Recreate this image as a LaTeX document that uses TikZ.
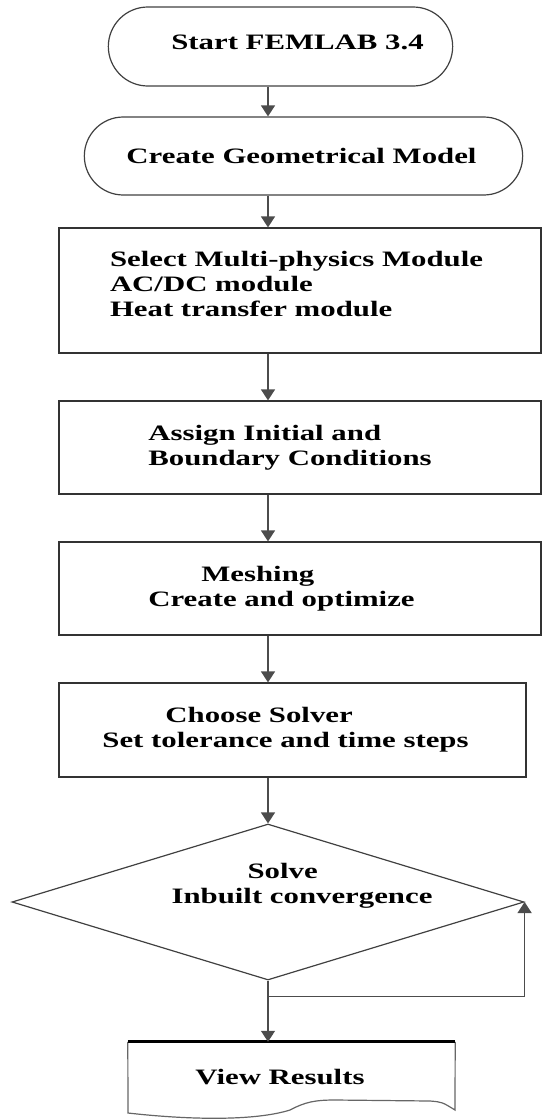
\documentclass[tikz,border=0pt]{standalone}
\usepackage{fontspec}
\setmainfont{Liberation Serif}[FakeStretch=1.4]
\usetikzlibrary{arrows.meta, shapes.geometric, shapes.misc, positioning, calc}

\tikzset{
  term/.style={rounded rectangle, draw=black!75, line width=1.2pt},
  procbox/.style={rectangle, draw=black!80, line width=1.2pt},
  decide/.style={diamond, draw=black!75, line width=1.2pt, minimum width=512pt, minimum height=156pt},
  arr/.style={draw=black!70, line width=1.2pt, -{Triangle[width=14pt,length=11pt]}},
  every label/.style={align=left, text=black}
}

\begin{document}
\begin{tikzpicture}[x=1pt, y=-1pt, font=\fontsize{22}{25}\selectfont\bfseries]
  \useasboundingbox (0,0) rectangle (543,1120);
  \coordinate (spine) at (268,0);

  % start and model
  \node[term, minimum width=351pt, minimum height=79pt,
        label={[xshift=17pt, yshift=4pt]center:Start FEMLAB 3.4}] (start) at (280.5,46.5) {};
  \node[term, minimum width=445pt, minimum height=78pt,
        label={[xshift=-2pt]center:Create Geometrical Model}] (geom) at (303.5,156) {};

  % process steps
  \node[procbox, minimum width=482pt, minimum height=125pt,
        label={[xshift=-3.5pt, yshift=6.5pt]center:Select Multi-physics Module\\AC/DC module\\Heat transfer module}] (sel) at (300,290.5) {};
  \node[procbox, minimum width=482pt, minimum height=93pt,
        label={[xshift=-10pt]center:Assign Initial and\\Boundary Conditions}] (asg) at (300,447.5) {};
  \node[procbox, minimum width=482pt, minimum height=93pt,
        label={[xshift=-18.5pt]center:\hspace*{53pt}Meshing\\Create and optimize}] (msh) at (300,588.5) {};
  \node[procbox, minimum width=467pt, minimum height=94pt,
        label={[xshift=-7pt]center:\hspace*{63pt}Choose Solver\\Set tolerance and time steps}] (slv) at (292.5,730) {};

  % solve
  \node[decide, label={[xshift=34pt, yshift=16.5pt]center:\hspace*{76pt}Solve\\Inbuilt convergence}] (dec) at (268,902) {};

  % results
  \node[minimum width=327pt, minimum height=70pt,
        label={[xshift=-11.5pt]center:View Results}] (res) at (291.5,1077) {};
  \draw[black!60, line width=1.2pt] (res.north west) -- (128,1113)
    .. controls (190,1120) and (255,1121) .. (290,1110)
    .. controls (305,1102) and (315,1100) .. (335,1100) -- (430,1101)
    .. controls (442,1102) .. (455,1110) -- (res.north east);
  \draw[line width=3pt] (res.north west) -- (res.north east);

  \draw[arr] (start.south -| spine) -- (geom.north -| spine);
  \draw[arr] (geom.south -| spine) -- (sel.north -| spine);
  \draw[arr] (sel.south -| spine) -- (asg.north -| spine);
  \draw[arr] (asg.south -| spine) -- (msh.north -| spine);
  \draw[arr] (msh.south -| spine) -- (slv.north -| spine);
  \draw[arr] (slv.south -| spine) -- (dec.north);
  \draw[arr] (dec.south) -- (res.north -| spine);
  \coordinate (split) at ($(dec.south)!0.26!(res.north -| spine)$);
  \draw[arr] (split) -| (dec.east);
\end{tikzpicture}
\end{document}
